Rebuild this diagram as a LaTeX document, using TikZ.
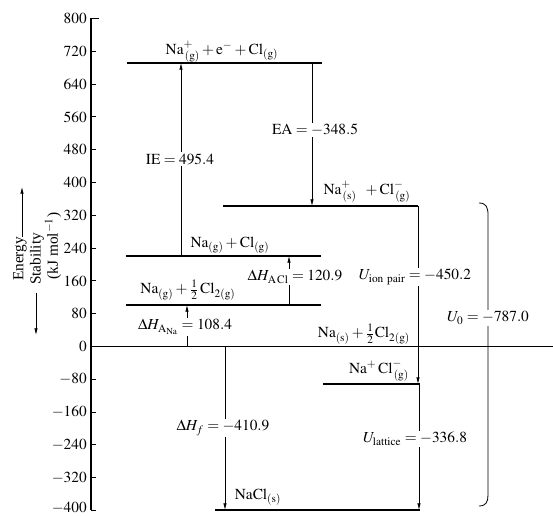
\documentclass[tikz,border=0pt]{standalone}
\usepackage{mathptmx}
\usepackage{fontspec}
\setmainfont{Liberation Serif}
\usetikzlibrary{arrows.meta}
\begin{document}
\begin{tikzpicture}[x=0.75pt,y=-0.75pt,
  every node/.style={font=\fontsize{11.5}{13}\selectfont, inner sep=1pt},
  elev/.style={line width=1.2pt},
  axline/.style={line width=0.8pt},
  axtick/.style={line width=0.7pt},
  transarrow/.style={line width=0.55pt,-{Latex[length=5pt,width=2.6pt]}},
  lab/.style={fill=white, inner sep=1.2pt},
  ticklab/.style={anchor=east, inner sep=0pt}]
\useasboundingbox[fill=white] (0,0) rectangle (553,516);
% ---- axis ----
\coordinate (axtop) at (91,18);
\coordinate (axbot) at (91,510);
\draw[axline] (axtop) -- (axbot);
\draw[axtick] (axtop) -- ++(8,0);
\foreach \v in {720,640,...,-320}{
  \draw[axtick] (91,{346.5-0.41*\v}) -- ++(4.5,0);
}
\draw[axtick] (axbot) -- ++(5,0);
\foreach \v in {800,720,640,560,480,400,320,240,160,80,0}{
  \node[ticklab] at (87,{346.5-0.41*\v}) {$\v$};
}
\foreach \v in {80,160,240,320}{
  \node[ticklab] at (87,{346.5+0.41*\v}) {$-\v$};
}
\node[ticklab] at (87,508) {$-400$};
% ---- axis title ----
\node[rotate=90] (tEnergy) at (20,259) {Energy};
\node[rotate=90] (tStab) at (37,259) {Stability};
\node[rotate=90] (tUnit) at (53,246) {(kJ mol$^{-1}$)};
\coordinate (upA) at (22,237);
\coordinate (upB) at (22,187);
\coordinate (dnA) at (36,293);
\coordinate (dnB) at (36,335);
\draw[transarrow] (upA) -- (upB);
\draw[transarrow] (dnA) -- (dnB);
% ---- levels ----
\coordinate (L1a) at (127,63);   \coordinate (L1b) at (322,63);
\coordinate (L2a) at (223,206);  \coordinate (L2b) at (418,206);
\coordinate (L3a) at (126,256);  \coordinate (L3b) at (321,256);
\coordinate (L4a) at (126,305);  \coordinate (L4b) at (321,305);
\coordinate (L0a) at (91,346.5); \coordinate (L0b) at (553,346.5);
\coordinate (L5a) at (323,384);  \coordinate (L5b) at (420,384);
\coordinate (L6a) at (215,510);  \coordinate (L6b) at (420,510);
\foreach \l in {L1,L2,L3,L4,L0,L5,L6}{ \draw[elev] (\l a) -- (\l b); }
% ---- level labels ----
\node (n1) at (222,52) {$\mathrm{Na}^{+}_{\,(\mathrm{g})}+\mathrm{e}^{-}+\mathrm{Cl}_{(\mathrm{g})}$};
\node (n2) at (367,192) {$\mathrm{Na}^{+}_{\,(\mathrm{s})}\;\;+\mathrm{Cl}^{-}_{\,(\mathrm{g})}$};
\node (n3) at (230,245) {$\mathrm{Na}_{(\mathrm{g})}+\mathrm{Cl}_{(\mathrm{g})}$};
\node (n4) at (188,290) {$\mathrm{Na}_{(\mathrm{g})}+{\textstyle\frac{1}{2}}\,\mathrm{Cl}_{2(\mathrm{g})}$};
\node (n0) at (364,334) {$\mathrm{Na}_{(\mathrm{s})}+{\textstyle\frac{1}{2}}\mathrm{Cl}_{2(\mathrm{g})}$};
\node (n5) at (379,371) {$\mathrm{Na}^{+}\,\mathrm{Cl}^{-}_{\,(\mathrm{g})}$};
\node (n6) at (258,497) {$\mathrm{NaCl}_{(\mathrm{s})}$};
% ---- transitions ----
\coordinate (ieA) at (181,256);  \coordinate (ieB) at (181,63);
\coordinate (eaA) at (312,63);   \coordinate (eaB) at (312,206);
\coordinate (naA) at (187,346.5);\coordinate (naB) at (187,305);
\coordinate (clA) at (289,305);  \coordinate (clB) at (289,256);
\coordinate (ipA) at (418,206);  \coordinate (ipB) at (418,384);
\coordinate (hfA) at (225,346.5);\coordinate (hfB) at (225,510);
\coordinate (ulA) at (419,384);  \coordinate (ulB) at (419,510);
\foreach \t in {ie,ea,na,cl,ip,hf,ul}{ \draw[transarrow] (\t A) -- (\t B); }
\node[lab] (lie) at (180,159) {$\mathrm{IE}=495.4$};
\node[lab] (lea) at (315,130) {$\mathrm{EA}=-348.5$};
\node[lab] (lna) at (185,327) {$\Delta H_{\mathrm{A}_{\mathrm{Na}}}=108.4$};
\node[lab] (lcl) at (295,277) {$\Delta H_{\mathrm{A\,Cl}}=120.9$};
\node[lab] (lip) at (415,277) {$U_{\mathrm{ion\ pair}}=-450.2$};
\node[lab] (lhf) at (223,428) {$\Delta H_f=-410.9$};
\node[lab] (lul) at (415,439) {$U_{\mathrm{lattice}}=-336.8$};
% ---- brace ----
\coordinate (brT) at (479,203);
\coordinate (brB) at (479,506);
\draw[line width=0.6pt] (brT) .. controls (486,203) and (488,207) .. (488,215)
   -- (488,495) .. controls (488,502) and (486,506) .. (brB);
\node[lab] (lu0) at (488,318) {$U_0=-787.0$};
\end{tikzpicture}
\end{document}
